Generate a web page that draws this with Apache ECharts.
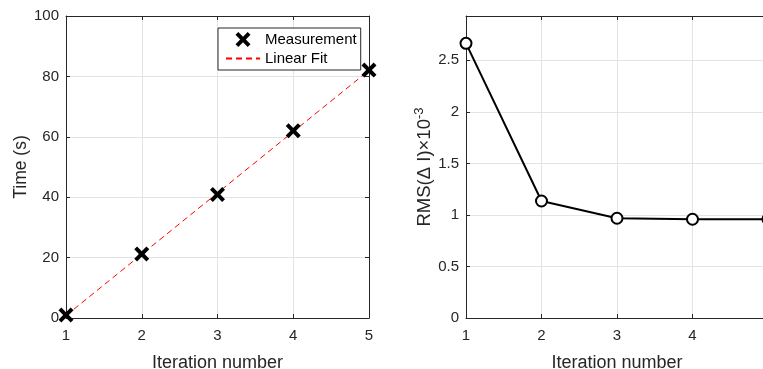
<!DOCTYPE html>
<html>
<head>
<meta charset="utf-8">
<script src="https://cdn.jsdelivr.net/npm/echarts@6/dist/echarts.min.js"></script>
<style>html,body{margin:0;padding:0;background:#fff}#c{width:763px;height:369px}</style>
</head>
<body>
<div id="c"></div>
<script>
const iterations = [1, 2, 3, 4, 5];
const timeMeasured = [1.0, 21.2, 40.9, 62.0, 82.1];
const fitIterations = [1, 5];
const fitTime = [0.8, 82.0];
const rmsValues = [2.665, 1.135, 0.968, 0.958, 0.958];

const FONT = '"Liberation Sans", Arial, sans-serif';
const INK = '#262626';
const GRIDC = '#e3e3e3';
const xPath = 'path://M0,1.9 L1.9,0 L5,3.1 L8.1,0 L10,1.9 L6.9,5 L10,8.1 L8.1,10 L5,6.9 L1.9,10 L0,8.1 L3.1,5 Z';

function mainAxis(extra) {
  return Object.assign({
    type: 'value',
    axisLine: { show: true, onZero: false, lineStyle: { color: INK, width: 1 } },
    axisTick: { show: true, inside: true, length: 4, lineStyle: { color: INK } },
    splitLine: { show: true, lineStyle: { color: GRIDC, width: 1 } },
    axisLabel: { color: INK, fontFamily: FONT, fontSize: 15 },
    nameTextStyle: { color: INK, fontFamily: FONT, fontSize: 18 },
    nameLocation: 'middle'
  }, extra);
}
function mirrorAxis(extra) {
  return Object.assign({
    type: 'value',
    axisLine: { show: true, onZero: false, lineStyle: { color: INK, width: 1 } },
    axisTick: { show: true, inside: true, length: 4, lineStyle: { color: INK } },
    splitLine: { show: false },
    axisLabel: { show: false }
  }, extra);
}

const chart = echarts.init(document.getElementById('c'), null, { renderer: 'canvas' });
chart.setOption({
  animation: false,
  backgroundColor: '#fff',
  textStyle: { fontFamily: FONT },
  grid: [
    { left: 66, top: 16, width: 303, height: 302, outerBoundsMode: 'none', containLabel: false },
    { left: 466, top: 16, width: 302, height: 302, outerBoundsMode: 'none', containLabel: false }
  ],
  legend: {
    left: 218, top: 28,
    orient: 'vertical',
    padding: [4, 4, 4, 7],
    itemGap: 4,
    itemWidth: 34,
    itemHeight: 15,
    borderColor: INK,
    borderWidth: 1,
    backgroundColor: '#fff',
    textStyle: { color: '#000', fontFamily: FONT, fontSize: 15 },
    data: [
      { name: 'Measurement', icon: xPath, itemStyle: { color: '#000', opacity: 1 } },
      { name: 'Linear Fit', itemStyle: { opacity: 0 } }
    ]
  },
  xAxis: [
    mainAxis({ gridIndex: 0, min: 1, max: 5, interval: 1, name: 'Iteration number', nameGap: 36,
      axisLabel: { color: INK, fontFamily: FONT, fontSize: 15, margin: 10 } }),
    mirrorAxis({ gridIndex: 0, position: 'top', min: 1, max: 5, interval: 1 }),
    mainAxis({ gridIndex: 1, min: 1, max: 5, interval: 1, name: 'Iteration number', nameGap: 36,
      axisLabel: { color: INK, fontFamily: FONT, fontSize: 15, margin: 10 } }),
    mirrorAxis({ gridIndex: 1, position: 'top', min: 1, max: 5, interval: 1 })
  ],
  yAxis: [
    mainAxis({ gridIndex: 0, min: 0, max: 100, interval: 20, name: 'Time (s)', nameGap: 36,
      nameTextStyle: { color: INK, fontFamily: FONT, fontSize: 17.5 },
      axisLabel: { color: INK, fontFamily: FONT, fontSize: 15, margin: 7 } }),
    mirrorAxis({ gridIndex: 0, position: 'right', min: 0, max: 100, interval: 20 }),
    mainAxis({ gridIndex: 1, min: 0, max: 2.93, interval: 0.5,
      name: 'RMS(Δ I)×10{sup|-3}', nameGap: 27,
      nameTextStyle: { color: INK, fontFamily: FONT, fontSize: 18.5,
        rich: { sup: { fontSize: 13, fontFamily: FONT, color: INK, verticalAlign: 'top', padding: [0, 0, 10, 0] } } },
      axisLabel: { color: INK, fontFamily: FONT, fontSize: 15, margin: 7, showMaxLabel: false } }),
    mirrorAxis({ gridIndex: 1, position: 'right', min: 0, max: 2.93, interval: 0.5 })
  ],
  series: [
    {
      name: 'Linear Fit', type: 'line', xAxisIndex: 0, yAxisIndex: 0,
      data: fitIterations.map((x, i) => [x, fitTime[i]]),
      symbol: 'circle', showSymbol: false, z: 2,
      lineStyle: { color: '#ff0000', width: 1, type: [6, 4] },
      itemStyle: { color: '#ff0000' }
    },
    {
      name: 'Measurement', type: 'scatter', xAxisIndex: 0, yAxisIndex: 0,
      data: iterations.map((x, i) => [x, timeMeasured[i]]),
      symbol: xPath, symbolSize: 15, z: 3,
      itemStyle: { color: '#000', opacity: 1 }
    },
    {
      name: 'RMS', type: 'line', xAxisIndex: 2, yAxisIndex: 2,
      data: iterations.map((x, i) => [x, rmsValues[i]]),
      symbol: 'circle', symbolSize: 11, showAllSymbol: true,
      lineStyle: { color: '#000', width: 2 },
      itemStyle: { color: '#fff', borderColor: '#000', borderWidth: 2 }
    }
  ]
});
</script>
</body>
</html>
